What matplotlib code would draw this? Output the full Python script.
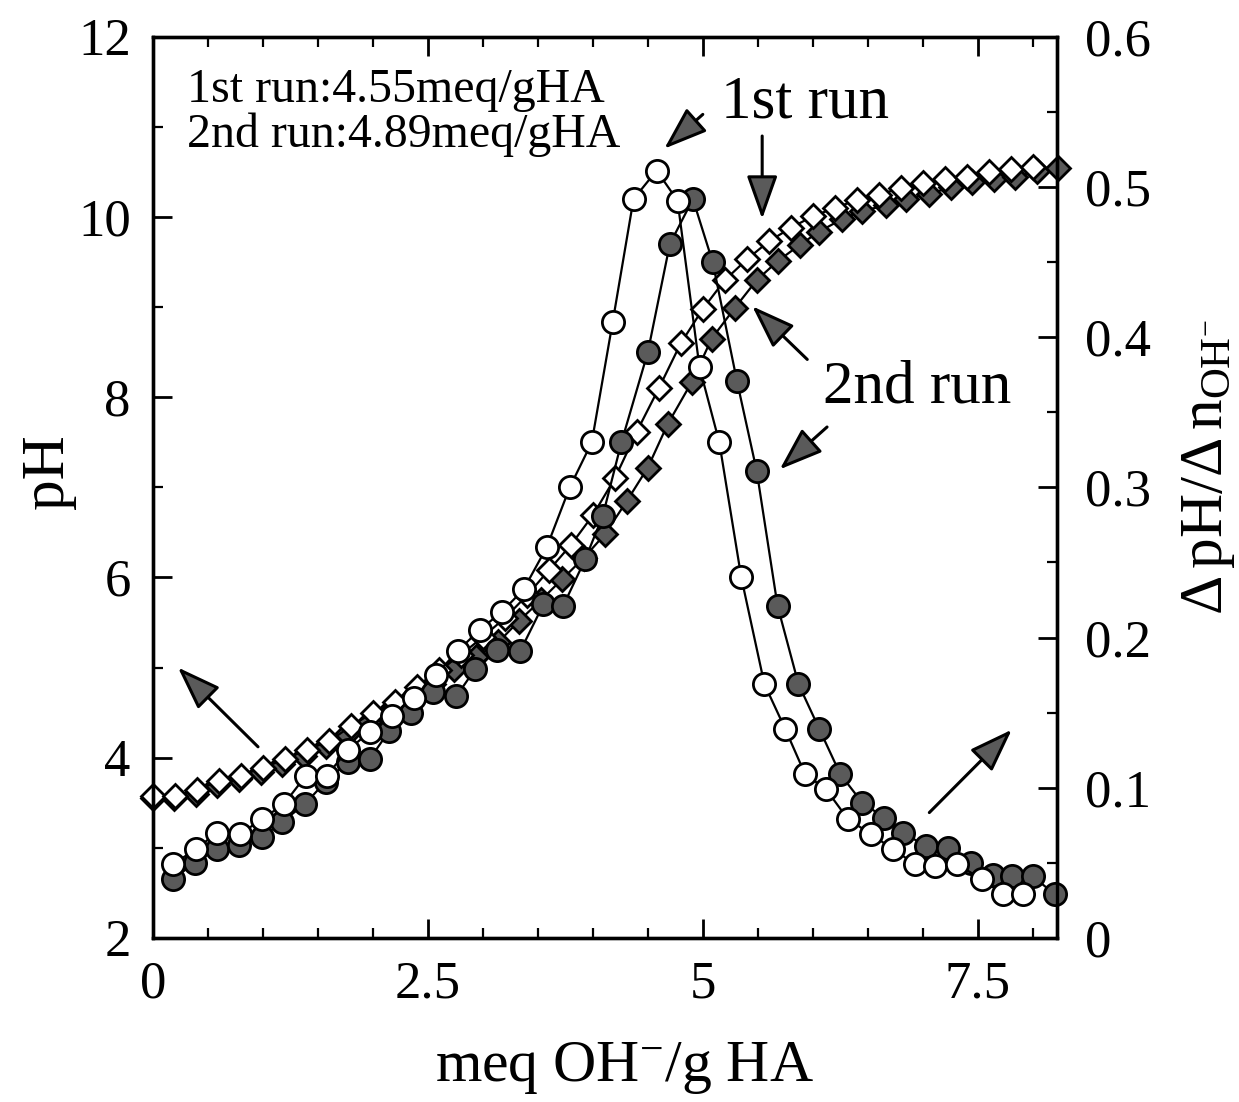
"""Titration curve of HA: pH (diamonds) and dpH/dn (circles) for two runs."""
import matplotlib
matplotlib.use("Agg")
import matplotlib.pyplot as plt
from matplotlib.ticker import MultipleLocator, FixedLocator

plt.rcParams["font.family"] = "serif"
plt.rcParams["font.serif"] = ["Liberation Serif", "DejaVu Serif"]
plt.rcParams["mathtext.fontset"] = "custom"
plt.rcParams["mathtext.rm"] = "Liberation Serif"
plt.rcParams["mathtext.it"] = "Liberation Serif:italic"
plt.rcParams["mathtext.default"] = "rm"

# pH curves (left axis)
ph1_x = [0.00, 0.20, 0.40, 0.60, 0.80, 1.00, 1.20, 1.40, 1.60, 1.80, 2.00,
         2.20, 2.40, 2.60, 2.80, 3.00, 3.20, 3.40, 3.60, 3.80, 4.00, 4.20,
         4.40, 4.60, 4.80, 5.00, 5.20, 5.40, 5.60, 5.80, 6.00, 6.20, 6.40,
         6.60, 6.80, 7.00, 7.20, 7.40, 7.60, 7.80, 8.00]
ph1_y = [3.57, 3.57, 3.64, 3.74, 3.80, 3.89, 3.98, 4.09, 4.18, 4.35, 4.50,
         4.62, 4.78, 4.97, 5.14, 5.34, 5.55, 5.80, 6.08, 6.36, 6.69, 7.10,
         7.62, 8.10, 8.60, 8.98, 9.30, 9.53, 9.73, 9.88, 10.01, 10.10, 10.19,
         10.25, 10.32, 10.38, 10.42, 10.45, 10.50, 10.53, 10.56]

ph2_x = [0.00, 0.19, 0.39, 0.58, 0.78, 0.98, 1.17, 1.37, 1.57, 1.76, 1.96,
         2.15, 2.35, 2.55, 2.74, 2.94, 3.14, 3.33, 3.53, 3.72, 3.92, 4.11,
         4.31, 4.50, 4.68, 4.90, 5.08, 5.29, 5.49, 5.68, 5.88, 6.06, 6.27,
         6.45, 6.67, 6.85, 7.06, 7.26, 7.45, 7.65, 7.84, 8.04, 8.23]
ph2_y = [3.55, 3.55, 3.60, 3.70, 3.76, 3.84, 3.93, 4.02, 4.13, 4.26, 4.40,
         4.52, 4.66, 4.82, 4.98, 5.12, 5.28, 5.52, 5.75, 5.98, 6.22, 6.48,
         6.85, 7.22, 7.70, 8.17, 8.65, 8.99, 9.30, 9.51, 9.69, 9.84, 9.98,
         10.07, 10.13, 10.20, 10.26, 10.33, 10.39, 10.42, 10.45, 10.51, 10.55]

# dpH/dn curves (right axis)
d1_x = [0.18, 0.39, 0.58, 0.79, 0.99, 1.19, 1.39, 1.58, 1.77, 1.97, 2.17,
        2.37, 2.57, 2.77, 2.97, 3.17, 3.37, 3.58, 3.79, 3.99, 4.18, 4.37,
        4.58, 4.77, 4.97, 5.15, 5.35, 5.56, 5.75, 5.93, 6.12, 6.32, 6.53,
        6.73, 6.93, 7.11, 7.31, 7.54, 7.73, 7.91]
d1_y = [0.049, 0.059, 0.070, 0.069, 0.079, 0.089, 0.108, 0.108, 0.125, 0.137,
        0.148, 0.160, 0.175, 0.191, 0.205, 0.217, 0.232, 0.260, 0.300, 0.330,
        0.410, 0.492, 0.511, 0.491, 0.380, 0.330, 0.240, 0.169, 0.139, 0.109,
        0.099, 0.079, 0.069, 0.059, 0.049, 0.048, 0.049, 0.039, 0.029, 0.029]

d2_x = [0.18, 0.38, 0.58, 0.78, 0.99, 1.17, 1.38, 1.57, 1.77, 1.97, 2.15,
        2.35, 2.55, 2.76, 2.93, 3.13, 3.34, 3.55, 3.73, 3.93, 4.09, 4.26,
        4.50, 4.70, 4.91, 5.09, 5.31, 5.49, 5.68, 5.87, 6.06, 6.25, 6.45,
        6.65, 6.82, 7.03, 7.23, 7.44, 7.64, 7.81, 8.00, 8.20]
d2_y = [0.039, 0.050, 0.059, 0.062, 0.067, 0.077, 0.089, 0.104, 0.117, 0.119,
        0.138, 0.150, 0.164, 0.161, 0.179, 0.192, 0.191, 0.222, 0.221, 0.252,
        0.281, 0.330, 0.390, 0.462, 0.492, 0.450, 0.371, 0.311, 0.221, 0.169,
        0.139, 0.109, 0.090, 0.080, 0.070, 0.061, 0.060, 0.050, 0.042, 0.041,
        0.041, 0.029]

x_ticks = [0, 2.5, 5, 7.5]
x_ticklabels = ["0", "2.5", "5", "7.5"]
ph_ticks = [2, 4, 6, 8, 10, 12]
d_ticks = [0, 0.1, 0.2, 0.3, 0.4, 0.5, 0.6]
d_ticklabels = ["0", "0.1", "0.2", "0.3", "0.4", "0.5", "0.6"]

GRAY = "#5a5a5a"

fig = plt.figure(figsize=(12.39, 11.02), dpi=100)
ax = fig.add_axes([0.1235, 0.149, 0.7295, 0.8175])
ax2 = ax.twinx()

line_kw = dict(color="black", lw=1.6, markeredgecolor="black", clip_on=False)
ax.plot(ph2_x, ph2_y, marker="D", ms=12.5, mfc=GRAY, mew=2, **line_kw)
ax.plot(ph1_x, ph1_y, marker="D", ms=12.5, mfc="white", mew=2, **line_kw)
ax2.plot(d2_x, d2_y, marker="o", ms=16, mfc=GRAY, mew=2, **line_kw)
ax2.plot(d1_x, d1_y, marker="o", ms=16, mfc="white", mew=2, **line_kw)

ax.set_xlim(0, 8.22)
ax.set_ylim(2, 12)
ax2.set_ylim(0, 0.6)

ax.xaxis.set_major_locator(FixedLocator(x_ticks))
ax.set_xticklabels(x_ticklabels)
ax.xaxis.set_minor_locator(MultipleLocator(0.5))
ax.yaxis.set_major_locator(FixedLocator(ph_ticks))
ax.yaxis.set_minor_locator(MultipleLocator(1))
ax2.yaxis.set_major_locator(FixedLocator(d_ticks))
ax2.set_yticklabels(d_ticklabels)
ax2.yaxis.set_minor_locator(MultipleLocator(0.05))

for a in (ax, ax2):
    for s in a.spines.values():
        s.set_linewidth(2.4)
ax.tick_params(axis="x", which="both", direction="in", top=True, bottom=True,
               labelsize=38, pad=16)
ax.tick_params(axis="y", which="both", direction="in", left=True, right=False,
               labelsize=38, pad=16)
ax2.tick_params(axis="y", which="both", direction="in", right=True, left=False,
                labelsize=38, pad=20)
for a in (ax, ax2):
    a.tick_params(which="major", length=14, width=2)
    a.tick_params(which="minor", length=7, width=1.6)

ax.set_xlabel(r"meq OH$^{-}$/g HA", fontsize=43)
ax.xaxis.set_label_coords(0.522, -0.113)
ax.set_ylabel("pH", fontsize=44, va="center")
ax.yaxis.set_label_coords(-0.116, 0.518)
ax2.set_ylabel(r"$\Delta\,$pH/$\Delta\,$n$_{\mathrm{OH}^{-}}$", fontsize=44,
               va="center", rotation=90)
ax2.yaxis.set_label_coords(1.168, 0.522)

ax.text(0.31, 11.28, "1st run:4.55meq/gHA", fontsize=34.5, va="baseline")
ax.text(0.31, 10.78, "2nd run:4.89meq/gHA", fontsize=34.5, va="baseline")
ax.text(5.17, 11.11, "1st run", fontsize=44, va="baseline")
ax.text(6.09, 7.94, "2nd run", fontsize=44, va="baseline")

arrow_kw = dict(arrowstyle="-|>,head_length=0.9,head_width=0.32",
                mutation_scale=30, fc=GRAY, ec="black", lw=2.2,
                shrinkA=0, shrinkB=0)
arrows = [
    ((0.955, 4.12), (0.227, 5.0)),
    ((7.06, 3.39), (7.81, 4.31)),
    ((5.0, 11.14), (4.65, 10.76)),
    ((5.54, 10.9), (5.54, 9.98)),
    ((5.95, 8.42), (5.45, 9.01)),
    ((6.13, 7.67), (5.70, 7.2)),
]
for tail, tip in arrows:
    ax.annotate("", xy=tip, xytext=tail, arrowprops=arrow_kw)

fig.savefig("out.png", dpi=100)
